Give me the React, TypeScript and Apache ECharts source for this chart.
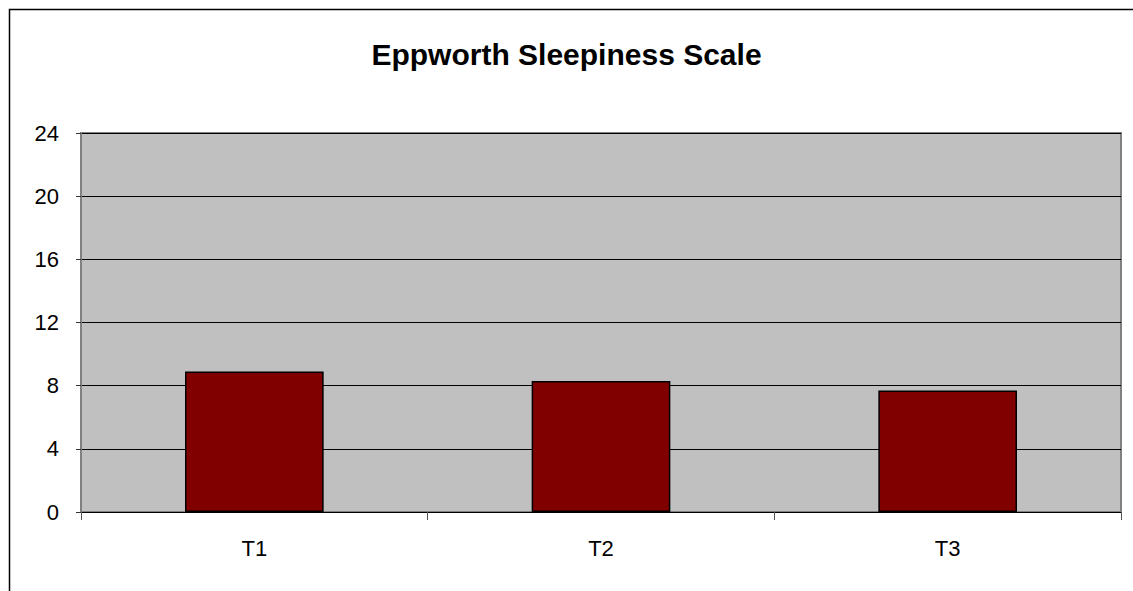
import React, { useEffect, useRef } from "react";
import * as echarts from "echarts";

const categories = ["T1", "T2", "T3"];
const values = [8.9, 8.3, 7.7];
const chartTitle = "Eppworth Sleepiness Scale";

export default function App() {
  const ref = useRef<HTMLDivElement>(null);
  useEffect(() => {
    if (!ref.current) return;
    const chart = echarts.init(ref.current, null, { renderer: "svg" });
    chart.setOption({
      animation: false,
      backgroundColor: "#ffffff",
      textStyle: { fontFamily: "Liberation Sans, Arial, sans-serif" },
      title: {
        text: chartTitle,
        left: "center",
        top: 34,
        textStyle: { fontSize: 30, fontWeight: "bold", color: "#000", fontFamily: "Liberation Sans, Arial, sans-serif" },
      },
      graphic: [
        {
          type: "rect",
          shape: { x: 9.5, y: 9.5, width: 2000, height: 2000 },
          style: { fill: "none", stroke: "#000", lineWidth: 1.5 },
          z: -1,
        },
      ],
      grid: {
        left: 81,
        top: 133,
        right: 12,
        bottom: 79,
        show: true,
        backgroundColor: "#C0C0C0",
        borderColor: "#808080",
        borderWidth: 2,
        containLabel: false,
      },
      xAxis: {
        type: "category",
        data: categories,
        axisLine: { show: true, lineStyle: { color: "#000", width: 1 } },
        axisTick: { show: true, alignWithLabel: false, length: 8, lineStyle: { color: "#555" } },
        axisLabel: { fontSize: 22, color: "#000", margin: 25 },
        splitLine: { show: false },
      },
      yAxis: {
        type: "value",
        min: 0,
        max: 24,
        interval: 4,
        axisLine: { show: true, lineStyle: { color: "#808080", width: 2 } },
        axisTick: { show: true, length: 5, lineStyle: { color: "#333" } },
        axisLabel: { fontSize: 22, color: "#000", margin: 22 },
        splitLine: { show: true, lineStyle: { color: "#000", width: 1 } },
      },
      series: [
        {
          type: "bar",
          data: values,
          barWidth: "40%",
          itemStyle: { color: "#800000", borderColor: "#000", borderWidth: 1.5 },
        },
      ],
    });
    return () => chart.dispose();
  }, []);
  return (
    <div
      ref={ref}
      style={{ position: "absolute", left: 0, top: 0, width: 1133, height: 591 }}
    />
  );
}
